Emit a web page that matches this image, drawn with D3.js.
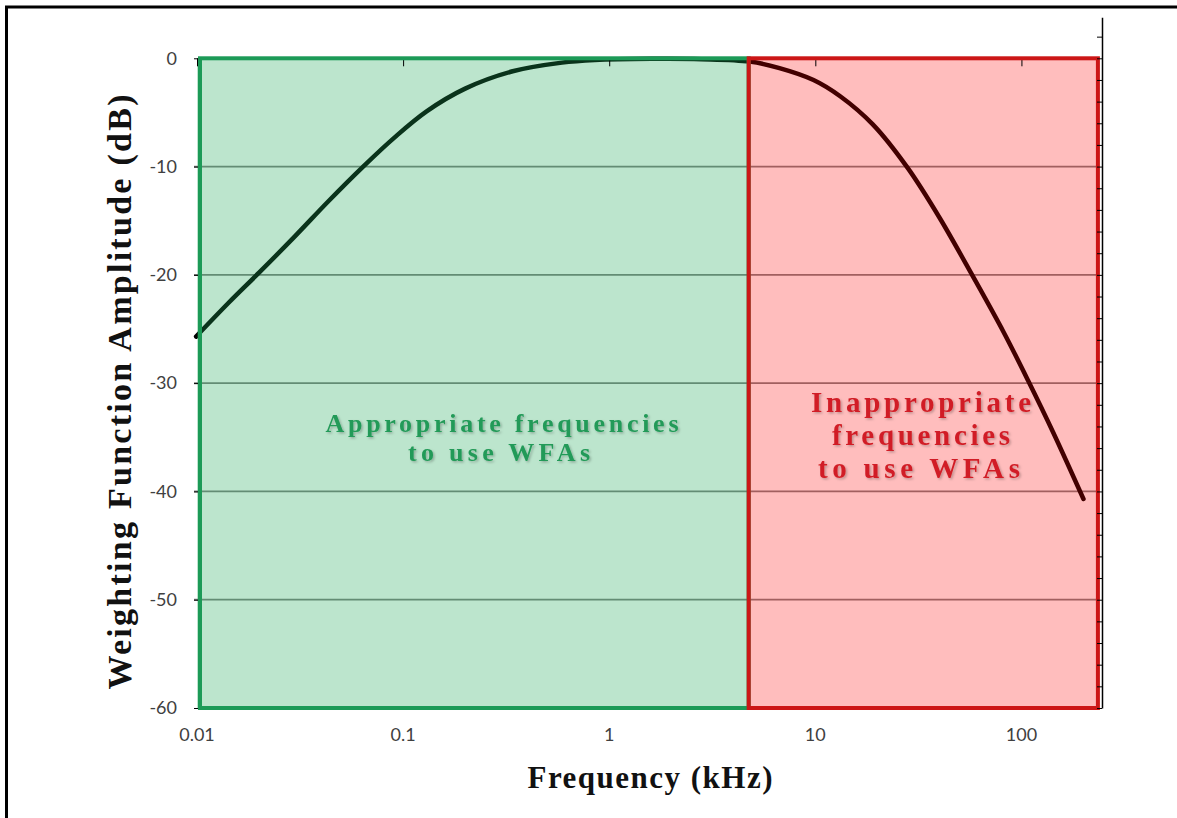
<!DOCTYPE html>
<html>
<head>
<meta charset="utf-8">
<script src="https://cdn.jsdelivr.net/npm/d3@7/dist/d3.min.js"></script>
<style>
  html, body { margin: 0; padding: 0; background: #fff; }
  svg { display: block; }
</style>
</head>
<body>
<svg id="chart" width="1177" height="818"></svg>
<script>
// ---------------- DATA ----------------
const frequencies = [0.0099, 0.0142, 0.02, 0.03, 0.0434, 0.064, 0.091, 0.13, 0.2, 0.34, 0.59, 0.85, 1.6, 2.8, 4.8, 6.7, 9.8, 13.2, 19, 28, 40, 58, 82, 108, 143, 200];
const amplitudes  = [-25.7, -22.6, -19.8, -16.4, -13.2, -10.0, -7.3, -4.9, -2.8, -1.2, -0.4, -0.16, -0.05, -0.08, -0.3, -0.9, -2.0, -3.5, -6.1, -10.1, -14.7, -20.1, -25.3, -29.8, -34.6, -40.7];
const xTickValues = [0.01, 0.1, 1, 10, 100];
const xTickLabels = ["0.01", "0.1", "1", "10", "100"];
const yTickValues = [0, -10, -20, -30, -40, -50, -60];
const yTickLabels = ["0", "-10", "-20", "-30", "-40", "-50", "-60"];
const gridValues = [-10, -20, -30, -40, -50];
const zoneEdges = [0.01, 4.75, 235];
const zoneLabels = [
  ["Appropriate frequencies", "to use WFAs"],
  ["Inappropriate", "frequencies", "to use WFAs"]
];
const rightAxisTop = 3.8;
const rightAxisStep = 2;
const xDomain = [0.01, 246];
const yDomain = [-60, 0];
const xTitle = "Frequency  (kHz)";
const yTitle = "Weighting Function Amplitude (dB)";

// ---------------- LAYOUT ----------------
const svg = d3.select("#chart");
const x = d3.scaleLog().domain(xDomain).range([197, 1102]);
const y = d3.scaleLinear().domain(yDomain).range([708, 58.3]);

// frame (top + left border)
svg.append("path")
  .attr("d", "M6.5,818 V7 H1177")
  .attr("fill", "none").attr("stroke", "#000").attr("stroke-width", 3);

// gridlines
svg.append("g").selectAll("line").data(gridValues).join("line")
  .attr("x1", x(zoneEdges[0]) - 3).attr("x2", x(zoneEdges[2]))
  .attr("y1", d => y(d)).attr("y2", d => y(d))
  .attr("stroke", "#808080").attr("stroke-width", 1.8);

// curve
const pts = frequencies.map((f, i) => ({ f, v: amplitudes[i] }));
const line = d3.line().x(d => x(d.f)).y(d => y(d.v)).curve(d3.curveCatmullRom.alpha(0.5));
svg.append("path").datum(pts)
  .attr("d", line)
  .attr("fill", "none").attr("stroke", "#000").attr("stroke-width", 4.5)
  .attr("stroke-linecap", "round").attr("stroke-linejoin", "round");

// zones: translucent fills
const zoneFill = ["rgb(34,170,90)", "rgb(255,0,0)"];
const zoneFillOp = [0.3, 0.26];
const zoneStroke = ["#1c9a57", "#cc1616"];
const zones = [0, 1].map(i => ({ a: zoneEdges[i], b: zoneEdges[i + 1], i }));
svg.append("g").selectAll("rect").data(zones).join("rect")
  .attr("x", d => x(d.a)).attr("width", d => x(d.b) - x(d.a))
  .attr("y", y(0)).attr("height", y(-60) - y(0))
  .attr("fill", d => zoneFill[d.i]).attr("fill-opacity", d => zoneFillOp[d.i]);

// left axis ticks
svg.append("g").attr("transform", `translate(${x(xDomain[0]) + 3},0)`)
  .call(d3.axisLeft(y).tickValues(yTickValues).tickSize(6).tickFormat(""))
  .call(g => g.select(".domain").remove())
  .call(g => g.selectAll("line").attr("stroke", "#000"));

// top axis ticks (pointing down)
svg.append("g").attr("transform", `translate(0,${y(0)})`)
  .call(d3.axisBottom(x).tickValues(xTickValues).tickSize(8).tickFormat(""))
  .call(g => g.select(".domain").remove())
  .call(g => g.selectAll("line").attr("stroke", "#000"));

// zone strokes
svg.append("g").selectAll("rect").data(zones).join("rect")
  .attr("x", d => x(d.a) + (d.i === 0 ? 3 : 0)).attr("width", d => x(d.b) - x(d.a) - (d.i === 0 ? 3 : 0))
  .attr("y", y(0)).attr("height", y(-60) - y(0))
  .attr("fill", "none").attr("stroke", d => zoneStroke[d.i]).attr("stroke-width", 4);

// right axis with minor ticks
const yRight = d3.scaleLinear().domain([yDomain[0], rightAxisTop]).range([y(yDomain[0]), y(rightAxisTop)]);
const rightTicks = d3.range(yDomain[0], rightAxisTop, rightAxisStep);
svg.append("g").attr("transform", `translate(${x(xDomain[1])},0)`)
  .call(d3.axisLeft(yRight).tickValues(rightTicks).tickSize(5).tickSizeOuter(0).tickFormat(""))
  .call(g => g.select(".domain").attr("stroke", "#000").attr("stroke-width", 1.5))
  .call(g => g.selectAll("line").attr("stroke", "#000"));

// tick labels
svg.append("g").selectAll("text").data(yTickValues).join("text")
  .attr("x", 177).attr("y", d => y(d)).attr("dy", "0.35em")
  .attr("text-anchor", "end")
  .attr("font-family", "Lato, 'Open Sans', sans-serif").attr("font-size", 18)
  .attr("fill", "#404040")
  .text((d, i) => yTickLabels[i]);

svg.append("g").selectAll("text").data(xTickValues).join("text")
  .attr("x", d => x(d)).attr("y", 741)
  .attr("text-anchor", "middle")
  .attr("font-family", "Lato, 'Open Sans', sans-serif").attr("font-size", 18)
  .attr("fill", "#404040")
  .text((d, i) => xTickLabels[i]);

// axis titles
svg.append("text")
  .attr("x", 650).attr("y", 788)
  .attr("text-anchor", "middle")
  .attr("font-family", "'Liberation Serif', 'DejaVu Serif', serif")
  .attr("font-weight", "bold").attr("font-size", 31)
  .attr("textLength", 245).attr("lengthAdjust", "spacing")
  .attr("fill", "#111")
  .text(xTitle);

svg.append("text")
  .attr("transform", "translate(131,392) rotate(-90)")
  .attr("text-anchor", "middle")
  .attr("font-family", "'Liberation Serif', 'DejaVu Serif', serif")
  .attr("font-weight", "bold").attr("font-size", 34)
  .attr("textLength", 595).attr("lengthAdjust", "spacing")
  .attr("fill", "#111")
  .text(yTitle);

// shadow filter for annotations
const defs = svg.append("defs");
const flt = defs.append("filter").attr("id", "shadow").attr("x", "-10%").attr("y", "-30%").attr("width", "120%").attr("height", "160%");
flt.append("feDropShadow").attr("dx", 1.5).attr("dy", 1.5).attr("stdDeviation", 1.2)
  .attr("flood-color", "#000").attr("flood-opacity", 0.25);

// zone annotations
const greenLines = [
  { t: zoneLabels[0][0], cx: 502, by: 432, w: 353 },
  { t: zoneLabels[0][1], cx: 499, by: 461, w: 182 }
];
svg.append("g").selectAll("text").data(greenLines).join("text")
  .attr("x", d => d.cx).attr("y", d => d.by)
  .attr("text-anchor", "middle")
  .attr("font-family", "'Liberation Serif', 'DejaVu Serif', serif")
  .attr("font-weight", "bold").attr("font-size", 26)
  .attr("textLength", d => d.w).attr("lengthAdjust", "spacing")
  .attr("fill", "#229a58").attr("filter", "url(#shadow)")
  .text(d => d.t);

const redLines = [
  { t: zoneLabels[1][0], cx: 921, by: 412, w: 220 },
  { t: zoneLabels[1][1], cx: 921, by: 445, w: 178 },
  { t: zoneLabels[1][2], cx: 919, by: 478, w: 202 }
];
svg.append("g").selectAll("text").data(redLines).join("text")
  .attr("x", d => d.cx).attr("y", d => d.by)
  .attr("text-anchor", "middle")
  .attr("font-family", "'Liberation Serif', 'DejaVu Serif', serif")
  .attr("font-weight", "bold").attr("font-size", 29)
  .attr("textLength", d => d.w).attr("lengthAdjust", "spacing")
  .attr("fill", "#d11f26").attr("filter", "url(#shadow)")
  .text(d => d.t);
</script>
</body>
</html>
